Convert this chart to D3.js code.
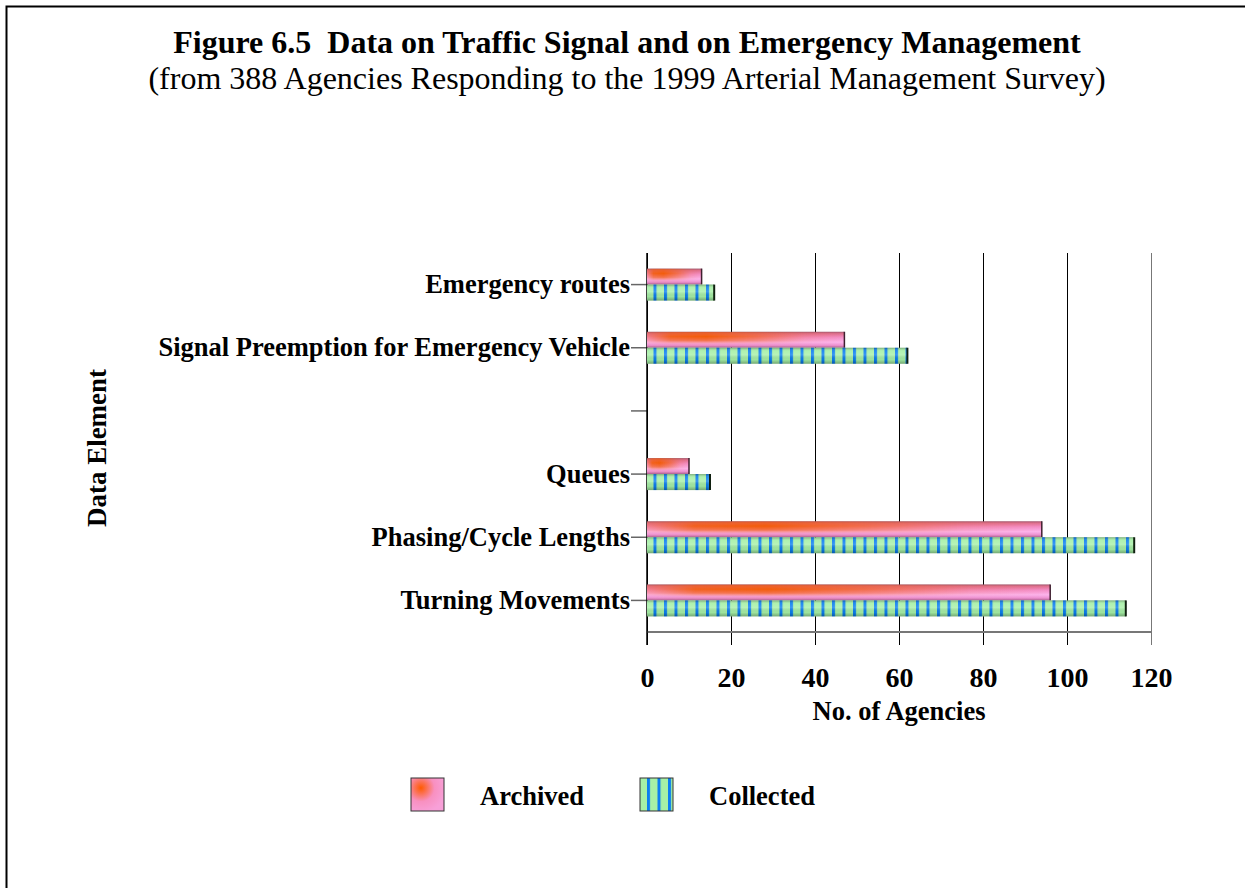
<!DOCTYPE html>
<html>
<head>
<meta charset="utf-8">
<script src="https://cdn.jsdelivr.net/npm/d3@7"></script>
<style>
  body { margin: 0; background: #fff; }
  text { font-family: "Liberation Serif", "Times New Roman", serif; }
</style>
</head>
<body>
<div id="canvas"></div>
<script>
const categories = [
  "Emergency routes",
  "Signal Preemption for Emergency Vehicle",
  " ",
  "Queues",
  "Phasing/Cycle Lengths",
  "Turning Movements"
];
const archived = [13, 47, null, 10, 94, 96];
const collected = [16, 62, null, 15, 116, 114];
const xTicks = [0, 20, 40, 60, 80, 100, 120];

const width = 1245;
const height = 888;
const margin = { top: 253, left: 647, bottom: 256, right: 94 };
const iwidth = width - margin.left - margin.right;
const iheight = height - margin.top - margin.bottom;

const svg = d3.select("#canvas").append("svg")
  .attr("width", width)
  .attr("height", height);

// frame around the figure
svg.append("path")
  .attr("d", `M6.5,${height} V6.5 H${width}`)
  .attr("fill", "none")
  .attr("stroke", "#000")
  .attr("stroke-width", 2);

const defs = svg.append("defs");

// archived: pink tube with orange glow
const gA = defs.append("linearGradient").attr("id", "archV")
  .attr("x1", 0).attr("y1", 0).attr("x2", 0).attr("y2", 1);
[[0, "#a05870"], [0.12, "#e07090"], [0.35, "#f48ec8"], [0.65, "#fcb4ec"], [0.85, "#ec90d0"], [1, "#a8608c"]]
  .forEach(s => gA.append("stop").attr("offset", s[0]).attr("stop-color", s[1]));

const gO = defs.append("linearGradient").attr("id", "archO")
  .attr("x1", 0).attr("y1", 0).attr("x2", 1).attr("y2", 0);
[[0, 0.25], [0.12, 0.85], [0.3, 0.95], [0.55, 0.6], [0.8, 0.15], [1, 0]]
  .forEach(s => gO.append("stop").attr("offset", s[0]).attr("stop-color", "#f25a00").attr("stop-opacity", s[1]));

const mO = defs.append("linearGradient").attr("id", "archMaskG")
  .attr("x1", 0).attr("y1", 0).attr("x2", 0).attr("y2", 1);
[[0, 0.6], [0.3, 1], [0.55, 0.7], [0.75, 0.1], [1, 0]]
  .forEach(s => mO.append("stop").attr("offset", s[0]).attr("stop-color", "#fff").attr("stop-opacity", s[1]));
defs.append("mask").attr("id", "archMask")
  .attr("maskContentUnits", "objectBoundingBox")
  .append("rect").attr("width", 1).attr("height", 1).attr("fill", "url(#archMaskG)");

// collected: green tube with blue stripes
const stripe = defs.append("pattern").attr("id", "stripes")
  .attr("patternUnits", "userSpaceOnUse")
  .attr("x", margin.left).attr("y", 0)
  .attr("width", 10.5).attr("height", 20);
stripe.append("rect").attr("width", 10.5).attr("height", 20).attr("fill", "#a6f0a6");
stripe.append("rect").attr("x", 0).attr("width", 3).attr("height", 20).attr("fill", "#0a7ef0");

const gShade = defs.append("linearGradient").attr("id", "tube")
  .attr("x1", 0).attr("y1", 0).attr("x2", 0).attr("y2", 1);
[[0, "#000", 0.3], [0.2, "#fff", 0.1], [0.45, "#fff", 0.2], [0.75, "#000", 0.05], [1, "#000", 0.3]]
  .forEach(s => gShade.append("stop").attr("offset", s[0]).attr("stop-color", s[1]).attr("stop-opacity", s[2]));

const gLeg = defs.append("radialGradient").attr("id", "archLeg")
  .attr("cx", 0.3).attr("cy", 0.3).attr("r", 0.75);
[[0, "#ff5a00"], [0.55, "#f890c0"], [1, "#f8a0d8"]]
  .forEach(s => gLeg.append("stop").attr("offset", s[0]).attr("stop-color", s[1]));

const x = d3.scaleLinear().domain([0, 120]).range([0, iwidth]);
const y = d3.scaleBand().domain(categories).range([0, iheight]);
const barH = 16;

const g = svg.append("g").attr("transform", `translate(${margin.left},${margin.top})`);

// x axis + gridlines
const xa = g.append("g")
  .attr("transform", `translate(0,${iheight})`)
  .call(d3.axisBottom(x).tickValues(xTicks).tickSize(13).tickPadding(22));
xa.select(".domain").remove();
xa.selectAll(".tick line")
  .attr("y1", -iheight)
  .attr("stroke", (d, i) => i === xTicks.length - 1 ? "#777" : "#000");
xa.selectAll(".tick text")
  .attr("font-size", 28).attr("font-weight", "bold").attr("fill", "#000");
g.append("line")
  .attr("x1", 0).attr("x2", iwidth).attr("y1", iheight).attr("y2", iheight)
  .attr("stroke", "#777").attr("stroke-width", 2);

// y axis
const ya = g.append("g").call(d3.axisLeft(y).tickSize(16).tickPadding(1));
ya.select(".domain").remove();
ya.selectAll(".tick line").attr("stroke", "#666").attr("stroke-width", 1.5);
ya.selectAll(".tick text")
  .attr("font-size", 26.5).attr("font-weight", "bold").attr("fill", "#000");
g.append("line")
  .attr("x1", 0).attr("x2", 0).attr("y1", 0).attr("y2", iheight + 13)
  .attr("stroke", "#000").attr("stroke-width", 1.5);

const rows = categories.map((c, i) => ({ c, a: archived[i], v: collected[i] }))
  .filter(d => d.a != null);

// archived bars
const ab = g.selectAll(".arch").data(rows).enter().append("g").attr("class", "arch");
ab.append("rect")
  .attr("x", 0).attr("y", d => y(d.c) + y.bandwidth() / 2 - barH)
  .attr("width", d => x(d.a)).attr("height", barH)
  .attr("fill", "url(#archV)");
ab.append("rect")
  .attr("x", 0).attr("y", d => y(d.c) + y.bandwidth() / 2 - barH)
  .attr("width", d => x(d.a)).attr("height", barH)
  .attr("fill", "url(#archO)").attr("mask", "url(#archMask)");
ab.append("line")
  .attr("x1", d => x(d.a)).attr("x2", d => x(d.a))
  .attr("y1", d => y(d.c) + y.bandwidth() / 2 - barH)
  .attr("y2", d => y(d.c) + y.bandwidth() / 2)
  .attr("stroke", "#402030").attr("stroke-width", 1.5);

// collected bars
const cb = g.selectAll(".coll").data(rows).enter().append("g").attr("class", "coll");
cb.append("rect")
  .attr("x", 0).attr("y", d => y(d.c) + y.bandwidth() / 2)
  .attr("width", d => x(d.v)).attr("height", barH)
  .attr("fill", "url(#stripes)");
cb.append("rect")
  .attr("x", 0).attr("y", d => y(d.c) + y.bandwidth() / 2)
  .attr("width", d => x(d.v)).attr("height", barH)
  .attr("fill", "url(#tube)");
cb.append("line")
  .attr("x1", d => x(d.v)).attr("x2", d => x(d.v))
  .attr("y1", d => y(d.c) + y.bandwidth() / 2)
  .attr("y2", d => y(d.c) + y.bandwidth() / 2 + barH)
  .attr("stroke", "#102010").attr("stroke-width", 2);

// titles
svg.append("text")
  .attr("x", 627).attr("y", 53)
  .attr("text-anchor", "middle")
  .attr("font-size", 32).attr("font-weight", "bold")
  .attr("xml:space", "preserve")
  .text("Figure 6.5  Data on Traffic Signal and on Emergency Management");
svg.append("text")
  .attr("x", 627).attr("y", 89)
  .attr("text-anchor", "middle")
  .attr("font-size", 32)
  .text("(from 388 Agencies Responding to the 1999 Arterial Management Survey)");

svg.append("text")
  .attr("x", margin.left + iwidth / 2).attr("y", 720)
  .attr("text-anchor", "middle")
  .attr("font-size", 26.5).attr("font-weight", "bold")
  .text("No. of Agencies");

svg.append("text")
  .attr("transform", "translate(106,448) rotate(-90)")
  .attr("text-anchor", "middle")
  .attr("font-size", 27).attr("font-weight", "bold")
  .text("Data Element");

// legend
const legend = [
  { name: "Archived", fill: "url(#archLeg)", x: 411 },
  { name: "Collected", fill: "url(#stripes)", x: 640 }
];
const lg = svg.selectAll(".legend").data(legend).enter().append("g").attr("class", "legend");
lg.append("rect")
  .attr("x", d => d.x).attr("y", 778)
  .attr("width", 33).attr("height", 33)
  .attr("fill", d => d.fill)
  .attr("stroke", "#333").attr("stroke-width", 1);
lg.append("text")
  .attr("x", d => d.x + 69).attr("y", 805)
  .attr("font-size", 26.5).attr("font-weight", "bold")
  .text(d => d.name);
</script>
</body>
</html>
